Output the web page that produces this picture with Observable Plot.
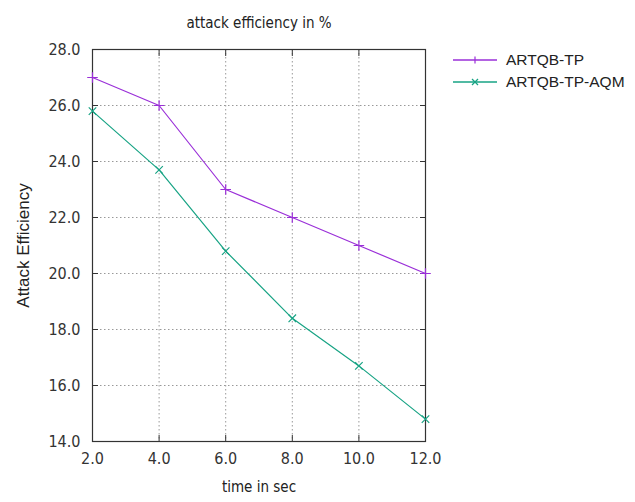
<!DOCTYPE html>
<html><head><meta charset="utf-8">
<script src="https://cdn.jsdelivr.net/npm/d3@7"></script>
<script src="https://cdn.jsdelivr.net/npm/@observablehq/plot@0.6"></script>
<style>
body{margin:0;background:#fff;}
#wrap{position:relative;width:635px;height:502px;}
#legend{position:absolute;left:453px;top:49px;font-family:"Liberation Sans",Arial,sans-serif;font-size:15.5px;color:#222;}
#legend .row{display:flex;align-items:center;height:22px;}
#legend svg{margin-right:9px;}
</style></head><body>
<div id="wrap"><div id="legend"></div></div>
<script>
const times = [2, 4, 6, 8, 10, 12];
const tpValues = [27.0, 26.0, 23.0, 22.0, 21.0, 20.0];
const aqmValues = [25.8, 23.7, 20.8, 18.4, 16.7, 14.8];
const seriesNames = ["ARTQB-TP", "ARTQB-TP-AQM"];
const seriesColors = ["#9a2fd8", "#17a384"];
const seriesSymbols = ["plus", "times"];
const xTicks = [2, 4, 6, 8, 10, 12];
const yTicks = [14, 16, 18, 20, 22, 24, 26, 28];

const data = [
  ...times.map((t, i) => ({t, v: tpValues[i], s: seriesNames[0]})),
  ...times.map((t, i) => ({t, v: aqmValues[i], s: seriesNames[1]}))
];
const font = '"DejaVu Sans Condensed","DejaVu Sans",sans-serif';
const gridStyle = {stroke: "#999", strokeOpacity: 1, strokeDasharray: "1.5,2.5"};

const chart = Plot.plot({
  width: 635, height: 502,
  marginLeft: 92, marginRight: 210, marginTop: 49, marginBottom: 61,
  style: {fontFamily: font, fontSize: "16px", color: "#333", background: "#fff", fontStretch: "condensed"},
  x: {domain: [2, 12]},
  y: {domain: [14, 28]},
  color: {domain: seriesNames, range: seriesColors},
  symbol: {domain: seriesNames, range: seriesSymbols},
  marks: [
    Plot.gridX(xTicks, gridStyle),
    Plot.gridY(yTicks, gridStyle),
    Plot.axisX(xTicks, {tickSize: -6, tickPadding: 17, tickFormat: d => d.toFixed(1), stroke: "#333", fill: "#333", label: null, fontSize: 16}),
    Plot.axisX(xTicks, {anchor: "top", tickSize: -6, tickFormat: () => "", stroke: "#333", label: null}),
    Plot.axisY(yTicks, {tickSize: -6, tickPadding: 18, tickFormat: d => d.toFixed(1), stroke: "#333", fill: "#333", label: null, fontSize: 16}),
    Plot.axisY(yTicks, {anchor: "right", tickSize: -6, tickFormat: () => "", stroke: "#333", label: null}),
    Plot.frame({stroke: "#333", strokeWidth: 1.2}),
    Plot.line(data, {x: "t", y: "v", stroke: "s", z: "s", strokeWidth: 1.2}),
    Plot.dot(data, {x: "t", y: "v", stroke: "s", symbol: "s", r: 3.5, strokeWidth: 1.2}),
    Plot.text(["attack efficiency in %"], {frameAnchor: "top", dy: -32, text: d => d, fontSize: 15, fill: "#222"}),
    Plot.text(["time in sec"], {frameAnchor: "bottom", dy: 50, text: d => d, fontSize: 15, fill: "#222"}),
    Plot.text(["Attack Efficiency"], {frameAnchor: "left", dx: -69, rotate: -90, textAnchor: "middle", text: d => d, fontSize: 17, fill: "#222", fontFamily: '"Liberation Sans",Arial,sans-serif'})
  ]
});
document.getElementById("wrap").prepend(chart);

const legend = document.getElementById("legend");
seriesNames.forEach((name, i) => {
  const row = document.createElement("div");
  row.className = "row";
  const mark = seriesSymbols[i] === "plus"
    ? `<line x1="22" y1="2.5" x2="22" y2="9.5" stroke="${seriesColors[i]}" stroke-width="1.2"/>`
    : `<line x1="19" y1="3" x2="25" y2="9" stroke="${seriesColors[i]}" stroke-width="1.2"/><line x1="19" y1="9" x2="25" y2="3" stroke="${seriesColors[i]}" stroke-width="1.2"/>`;
  row.innerHTML = `<svg width="44" height="12"><line x1="0" y1="6" x2="44" y2="6" stroke="${seriesColors[i]}" stroke-width="1.5"/>${mark}</svg><span>${name}</span>`;
  legend.appendChild(row);
});
</script>
</body></html>
